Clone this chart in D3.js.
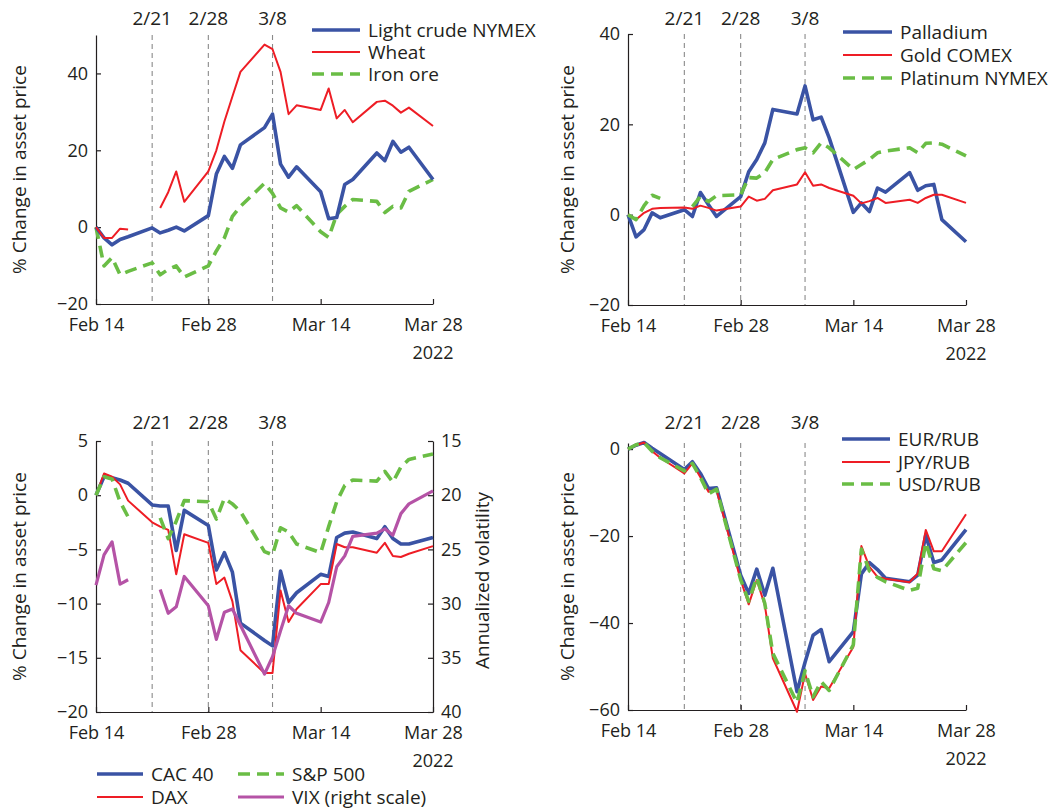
<!DOCTYPE html>
<html><head><meta charset="utf-8">
<script src="https://cdn.jsdelivr.net/npm/d3@7"></script>
<style>
body{margin:0;background:#fff}
text{font-family:"Open Sans",sans-serif;fill:#231f20}
</style>
</head><body>
<svg id="c" width="1050" height="810"></svg>
<script>
// ---------- DATA ----------
const dates = ["2022-02-14","2022-02-15","2022-02-16","2022-02-17","2022-02-18",
  "2022-02-21","2022-02-22","2022-02-23","2022-02-24","2022-02-25",
  "2022-02-28","2022-03-01","2022-03-02","2022-03-03","2022-03-04",
  "2022-03-07","2022-03-08","2022-03-09","2022-03-10","2022-03-11",
  "2022-03-14","2022-03-15","2022-03-16","2022-03-17","2022-03-18",
  "2022-03-21","2022-03-22","2022-03-23","2022-03-24","2022-03-25","2022-03-28"];

// Panel 1 (% change)
const lightCrude = [0,-2.8,-4.6,-3.2,-2.5, -0.2,-1.5,-0.8,0,-1.0, 3.0,13.8,18.4,15.3,21.4, 25.9,29.4,16.4,13.0,15.7, 9.2,2.2,2.5,11.1,12.4, 19.3,17.3,22.3,19.5,20.8,12.4];
const wheat      = [0,-2.8,-2.8,-0.4,-0.6, null,5.0,9.1,14.5,6.6, 14.5,20.0,27.5,34.0,40.4, 47.5,46.3,40.4,29.4,31.7, 30.5,36.1,28.3,30.5,27.3, 32.6,32.9,31.6,29.8,31.1,26.3];
const ironOre    = [0,-10.1,-7.9,-12.4,-11.5, -9.3,-12.4,-11.0,-10.1,-13.0, -10.1,-6.2,-2.8,2.8,5.4, 11.4,8.8,5.0,3.9,5.6, -1.2,-2.7,3.3,5.4,7.2, 6.7,3.8,5.4,5.0,9.3,12.4];

// Panel 2 (% change)
const palladium  = [0,-4.9,-3.3,0.4,-0.7, 1.1,-0.4,4.9,2.2,-0.4, 4.0,9.5,12.2,15.9,23.3, 22.3,28.5,21.0,21.6,17.0, 0.5,2.6,0.7,5.9,5.0, 9.3,5.4,6.4,6.7,-1.1,-6.0];
const goldComex  = [0,-1.1,0.4,1.3,1.5, 1.6,1.3,2.0,1.5,0.9, 1.8,4.0,3.1,3.5,5.4, 6.7,9.4,6.4,6.7,5.9, 4.2,2.5,3.0,3.7,2.6, 3.3,2.6,3.7,4.4,4.4,2.6];
const platinum   = [0,-1.1,2.0,4.3,3.6, null,1.8,4.0,2.9,4.2, 4.4,8.2,8.1,9.3,12.2, 14.4,14.8,13.7,15.9,14.8, 10.0,11.1,12.2,13.7,14.1, 14.8,13.7,15.8,15.9,15.6,13.0];

// Panel 3 (% change, VIX level on right scale)
const cac40 = [0,1.7,1.6,1.4,1.1, -0.9,-1.0,-1.0,-5.1,-1.4, -2.8,-6.9,-5.3,-7.1,-11.8, -13.4,-13.9,-7.0,-9.9,-9.0, -7.3,-7.5,-3.9,-3.5,-3.4, -4.0,-2.9,-4.0,-4.5,-4.5,-3.9];
const dax   = [0,2.0,1.7,1.0,-0.5, -2.5,-2.9,-3.2,-7.3,-3.6, -4.4,-8.2,-7.6,-9.8,-14.3, -16.4,-16.4,-8.8,-11.7,-10.5, -8.2,-8.2,-4.5,-4.8,-4.8, -5.3,-4.4,-5.6,-5.7,-5.4,-4.7];
const sp500 = [0,1.7,1.5,-0.6,-2.0, null,-2.1,-4.0,-2.4,-0.5, -0.6,-2.2,-0.3,-0.8,-1.5, -5.2,-5.5,-3.0,-3.4,-4.5, -5.3,-2.9,-0.6,0.9,1.4, 1.3,2.2,1.2,2.6,3.3,3.8];
const vix   = [28.3,25.5,24.3,28.2,27.8, null,28.7,30.9,30.3,27.5, 30.2,33.3,30.8,30.5,32.0, 36.5,34.9,32.5,30.2,30.9, 31.7,29.9,26.6,25.6,23.8, 23.5,23.1,23.7,21.7,20.8,19.6];

// Panel 4 (% change)
const eurRub = [0,0.9,1.5,0.2,-1.0, -4.7,-2.9,-5.6,-9.1,-8.9, -29.0,-33.2,-27.6,-33.6,-27.4, -55.8,-49.0,-42.8,-41.5,-48.9, -42.0,-28.7,-26.1,-27.7,-29.7, -30.5,-29.0,-19.8,-26.1,-25.5,-18.5];
const jpyRub = [0,0.9,1.5,-0.5,-2.0, -5.6,-3.3,-6.5,-9.8,-9.4, -30.1,-35.7,-30.1,-35.9,-48.1, -60.4,-51.6,-57.7,-54.6,-55.0, -45.5,-22.3,-27.1,-29.4,-29.8, -30.6,-28.6,-18.6,-23.5,-23.5,-15.0];
const usdRub = [0,1.0,1.5,-0.5,-2.0, -5.0,-3.3,-6.5,-10.3,-9.2, -30.0,-35.0,-29.5,-35.5,-47.0, -58.3,-51.0,-57.0,-53.5,-55.5, -45.0,-23.0,-28.0,-29.5,-30.5, -32.5,-32.0,-21.5,-27.5,-28.0,-21.5];

// Axis ticks / labels
const xTickDates = ["2022-02-14","2022-02-28","2022-03-14","2022-03-28"];
const xTickLabels = ["Feb 14","Feb 28","Mar 14","Mar 28"];
const yearLabel = "2022";
const eventDates = ["2022-02-21","2022-02-28","2022-03-08"];
const eventLabels = ["2/21","2/28","3/8"];
const yTicks1 = [-20,0,20,40];
const yTicks2 = [-20,0,20,40];
const yTicks3 = [-20,-15,-10,-5,0,5];
const yTicks3R = [15,20,25,30,35,40];
const yTicks4 = [-60,-40,-20,0];
const yLabel = "% Change in asset price";
const yLabelRight = "Annualized volatility";

// ---------- STYLE ----------
const C = {blue:"#3a53a4", red:"#ee1d25", green:"#6abd45", magenta:"#b553a6", axis:"#231f20", vline:"#8a8a8a"};
const S = {
  blue:{stroke:C.blue,width:3.6,dash:null},
  red:{stroke:C.red,width:2,dash:null},
  green:{stroke:C.green,width:3.6,dash:"12,7"},
  magenta:{stroke:C.magenta,width:3.2,dash:null}
};

const svg = d3.select("#c");
const parse = d3.utcParse("%Y-%m-%d");
const D = dates.map(parse);
const FS = 18, FL = 19;

function panel(cfg){
  const g = svg.append("g");
  const x = d3.scaleUtc().domain([parse("2022-02-14"), parse("2022-03-28")]).range([cfg.x0, cfg.x1]);
  const y = d3.scaleLinear().domain(cfg.domain).range([cfg.y1, cfg.y0]);

  // event lines
  eventDates.forEach((ed,i)=>{
    const xx = x(parse(ed));
    g.append("line").attr("x1",xx).attr("x2",xx).attr("y1",cfg.y0).attr("y2",cfg.y1)
      .attr("stroke",C.vline).attr("stroke-width",1.1).attr("stroke-dasharray","5,4");
    g.append("text").attr("x",xx).attr("y",cfg.evY).attr("text-anchor","middle")
      .attr("font-size",FL).text(eventLabels[i]);
  });

  // axes
  const ax = d3.axisBottom(x).tickValues(xTickDates.map(parse))
    .tickFormat((d,i)=>xTickLabels[i]).tickSizeInner(-5).tickSizeOuter(0).tickPadding(13);
  const gx = g.append("g").attr("transform",`translate(0,${cfg.y1})`).call(ax);
  const ay = d3.axisLeft(y).tickValues(cfg.ticks).tickSizeInner(-5).tickSizeOuter(0).tickPadding(8);
  const gy = g.append("g").attr("transform",`translate(${cfg.x0},0)`).call(ay);
  [gx,gy].forEach(a=>{
    a.selectAll("text").attr("font-size",FS).attr("font-family","Open Sans").attr("fill",C.axis);
    a.selectAll("path,line").attr("stroke",C.axis).attr("stroke-width",1.2);
  });
  gx.selectAll("text").attr("dy","0.78em");
  g.append("text").attr("x",cfg.x1).attr("y",cfg.y1+55).attr("text-anchor","middle")
    .attr("font-size",FS).text(yearLabel);
  g.append("text").attr("transform",`translate(${cfg.ylx},${(cfg.y0+cfg.y1)/2}) rotate(-90)`)
    .attr("text-anchor","middle").attr("font-size",FL).text(yLabel);

  let yR = null;
  if(cfg.right){
    yR = d3.scaleLinear().domain(cfg.right.domain).range([cfg.y0, cfg.y1]);
    const ar = d3.axisRight(yR).tickValues(cfg.right.ticks).tickSizeInner(-5).tickSizeOuter(0).tickPadding(8);
    const gr = g.append("g").attr("transform",`translate(${cfg.x1},0)`).call(ar);
    gr.selectAll("text").attr("font-size",FS).attr("font-family","Open Sans").attr("fill",C.axis);
    gr.selectAll("path,line").attr("stroke",C.axis).attr("stroke-width",1.2);
    g.append("text").attr("transform",`translate(${cfg.x1+56},${(cfg.y0+cfg.y1)/2+4}) rotate(-90)`)
      .attr("text-anchor","middle").attr("font-size",FL).text(yLabelRight);
  }

  // series
  cfg.series.forEach(s=>{
    const sc = s.right ? yR : y;
    const line = d3.line().defined(d=>d[1]!=null).x(d=>x(d[0])).y(d=>sc(d[1]));
    const st = S[s.style];
    g.append("path").datum(D.map((d,i)=>[d,s.values[i]]))
      .attr("d",line).attr("fill","none").attr("stroke",st.stroke).attr("stroke-width",st.width)
      .attr("stroke-linejoin","round").attr("stroke-dasharray",st.dash);
  });

  // legend
  cfg.legend.items.forEach((it,i)=>{
    const st = S[it.style];
    const lx = it.lx, ly = it.ly;
    g.append("line").attr("x1",lx).attr("x2",lx+cfg.legend.len).attr("y1",ly).attr("y2",ly)
      .attr("stroke",st.stroke).attr("stroke-width",st.width).attr("stroke-dasharray",st.dash);
    g.append("text").attr("x",lx+cfg.legend.len+8).attr("y",ly+6.5).attr("font-size",FL).text(it.name);
  });
}

panel({x0:96,x1:433,y0:35,y1:304,domain:[-20,50],ticks:yTicks1,evY:25,ylx:26,
  series:[{values:ironOre,style:"green"},{values:lightCrude,style:"blue"},{values:wheat,style:"red"}],
  legend:{len:48,items:[{name:"Light crude NYMEX",style:"blue",lx:312,ly:30},{name:"Wheat",style:"red",lx:312,ly:52},{name:"Iron ore",style:"green",lx:312,ly:74}]}
});
panel({x0:628,x1:966,y0:34,y1:305,domain:[-20,40],ticks:yTicks2,evY:25,ylx:574,
  series:[{values:palladium,style:"blue"},{values:goldComex,style:"red"},{values:platinum,style:"green"}],
  legend:{len:49,items:[{name:"Palladium",style:"blue",lx:843,ly:32},{name:"Gold COMEX",style:"red",lx:843,ly:55},{name:"Platinum NYMEX",style:"green",lx:843,ly:78}]}
});
panel({x0:96,x1:433,y0:441,y1:712,domain:[-20,5],ticks:yTicks3,evY:429,ylx:26,
  right:{domain:[15,40],ticks:yTicks3R},
  series:[{values:cac40,style:"blue"},{values:dax,style:"red"},{values:sp500,style:"green"},{values:vix,style:"magenta",right:true}],
  legend:{len:46,items:[{name:"CAC 40",style:"blue",lx:97,ly:774},{name:"DAX",style:"red",lx:97,ly:797},{name:"S&P 500",style:"green",lx:238,ly:774},{name:"VIX (right scale)",style:"magenta",lx:238,ly:797}]}
});
panel({x0:628,x1:966,y0:443,y1:710,domain:[-60,1.4],ticks:yTicks4,evY:429,ylx:574,
  series:[{values:eurRub,style:"blue"},{values:jpyRub,style:"red"},{values:usdRub,style:"green"}],
  legend:{len:48,items:[{name:"EUR/RUB",style:"blue",lx:842,ly:439},{name:"JPY/RUB",style:"red",lx:842,ly:462},{name:"USD/RUB",style:"green",lx:842,ly:484}]}
});
</script>
</body></html>
